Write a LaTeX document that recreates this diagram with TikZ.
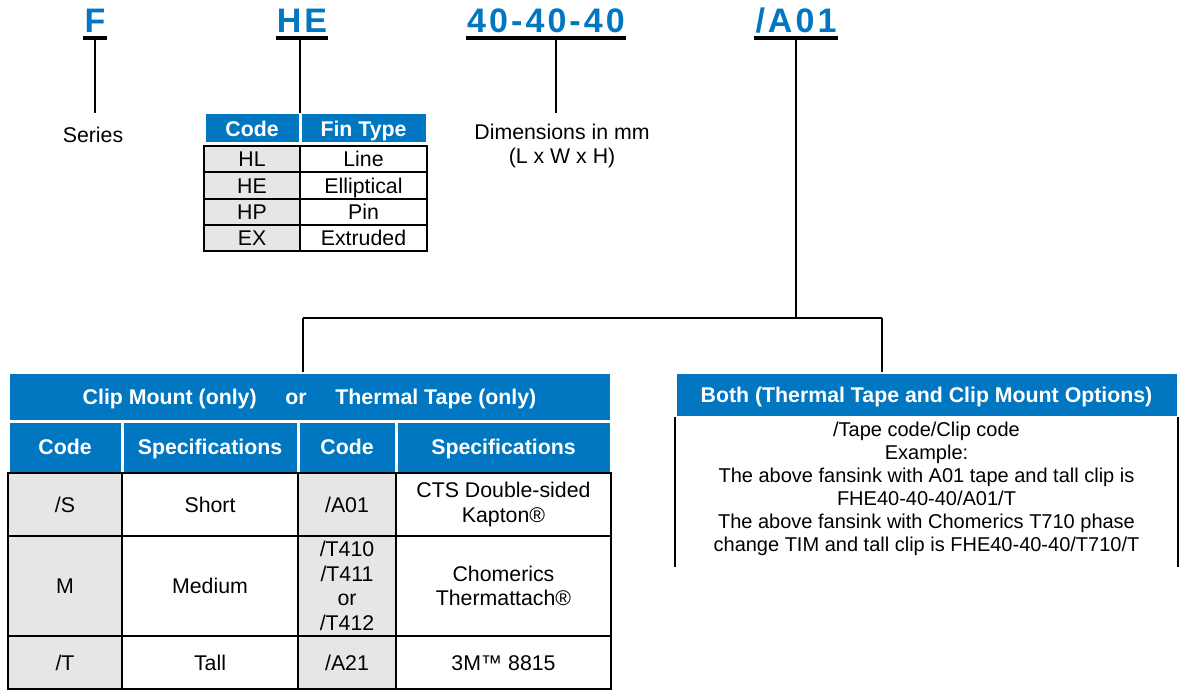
\documentclass[tikz,border=0pt]{standalone}
\usepackage{fontspec}
\setmainfont{Liberation Sans}
\usepackage{tikz}

\definecolor{tblblue}{RGB}{0,119,192}
\definecolor{codegray}{RGB}{230,230,230}
\newcommand{\bodyfont}{\fontsize{21.3}{24.5}\selectfont}

\tikzset{
  partcode/.style={text=tblblue, font=\fontsize{34}{34}\selectfont\bfseries\addfontfeature{LetterSpace=9},
    inner xsep=1pt, inner ysep=0pt, text depth=5pt, anchor=south},
  uline/.style={line width=4pt},
  stem/.style={line width=2pt},
  capbox/.style={text height=15.3pt, text depth=0pt},
  hdrcell/.style={fill=tblblue, draw=white, line width=3pt, text=white, font=\bfseries\bodyfont,
    anchor=north west, inner sep=0pt, outer sep=0pt, align=center, capbox},
  cellbase/.style={draw=black, line width=2pt, font=\bodyfont,
    anchor=north west, inner sep=0pt, outer sep=0pt, align=center},
  codemulti/.style={cellbase, fill=codegray},
  specmulti/.style={cellbase, fill=white},
  codecell/.style={codemulti, capbox},
  speccell/.style={specmulti, capbox},
  note/.style={font=\bodyfont, align=center, inner sep=0pt},
}

\begin{document}
\begin{tikzpicture}[x=1pt,y=-1pt]
\useasboundingbox (0,0) rectangle (1186,690);

% part number
\node[partcode] (F) at (95,38) {F};
\node[partcode] (HE) at (302,38) {HE};
\node[partcode] (dims) at (546,38) {40-40-40};
\node[partcode] (tape) at (796,38) {/A01};
\draw[uline] (F.south west) -- (F.south east);
\draw[uline] (HE.south west) -- (HE.south east);
\draw[uline] (dims.south west) -- (dims.south east);
\draw[uline] (tape.south west) -- (tape.south east);

% series and dimensions
\node[note] (series) at (93,135) {Series};
\node[note, font=\fontsize{21.3}{24}\selectfont] (dimtxt) at (562,146) {Dimensions in mm\\(L x W x H)};

% fin type table
\node[hdrcell, minimum width=96pt, minimum height=31pt] (hcode) at (204,113) {Code};
\node[hdrcell, minimum width=127pt, minimum height=31pt] (hfin) at (300,113) {Fin Type};
\node[codecell, minimum width=96pt, minimum height=26.25pt] (fc1) at (204,146) {HL};
\node[speccell, minimum width=127pt, minimum height=26.25pt] (ft1) at (300,146) {Line};
\node[codecell, minimum width=96pt, minimum height=26.25pt] (fc2) at (204,172.25) {HE};
\node[speccell, minimum width=127pt, minimum height=26.25pt] (ft2) at (300,172.25) {Elliptical};
\node[codecell, minimum width=96pt, minimum height=26.25pt] (fc3) at (204,198.5) {HP};
\node[speccell, minimum width=127pt, minimum height=26.25pt] (ft3) at (300,198.5) {Pin};
\node[codecell, minimum width=96pt, minimum height=26.25pt] (fc4) at (204,224.75) {EX};
\node[speccell, minimum width=127pt, minimum height=26.25pt] (ft4) at (300,224.75) {Extruded};

% clip mount or thermal tape table
\node[hdrcell, minimum width=603pt, minimum height=49pt] (clipttl) at (8,372)
  {Clip Mount (only)\hspace{1.35em}or\hspace{1.35em}Thermal Tape (only)};
\node[hdrcell, minimum width=114pt, minimum height=52pt] (ch1) at (8,421) {Code};
\node[hdrcell, minimum width=176pt, minimum height=52pt] (ch2) at (122,421) {Specifications};
\node[hdrcell, minimum width=98pt, minimum height=52pt] (ch3) at (298,421) {Code};
\node[hdrcell, minimum width=215pt, minimum height=52pt] (ch4) at (396,421) {Specifications};
\node[codecell, minimum width=114pt, minimum height=63pt] (s1) at (8,473) {/S};
\node[speccell, minimum width=176pt, minimum height=63pt] (sp1) at (122,473) {Short};
\node[codecell, minimum width=98pt, minimum height=63pt] (t1) at (298,473) {/A01};
\node[specmulti, minimum width=215pt, minimum height=63pt] (tp1) at (396,473) {CTS Double-sided\\Kapton®};
\node[codecell, minimum width=114pt, minimum height=100pt] (s2) at (8,536) {M};
\node[speccell, minimum width=176pt, minimum height=100pt] (sp2) at (122,536) {Medium};
\node[codemulti, minimum width=98pt, minimum height=100pt] (t2) at (298,536) {/T410\\/T411\\or\\/T412};
\node[specmulti, minimum width=215pt, minimum height=100pt] (tp2) at (396,536) {Chomerics\\Thermattach®};
\node[codecell, minimum width=114pt, minimum height=53pt] (s3) at (8,636) {/T};
\node[speccell, minimum width=176pt, minimum height=53pt] (sp3) at (122,636) {Tall};
\node[codecell, minimum width=98pt, minimum height=53pt] (t3) at (298,636) {/A21};
\node[speccell, minimum width=215pt, minimum height=53pt] (tp3) at (396,636) {3M™ 8815};

% both options box
\node[hdrcell, minimum width=503pt, minimum height=45pt] (bothttl) at (675,372)
  {Both (Thermal Tape and Clip Mount Options)};
\node[note, font=\fontsize{20}{23}\selectfont] (bothtxt) at (926.5,489)
  {/Tape code/Clip code\\Example:\\The above fansink with A01 tape and tall clip is\\FHE40-40-40/A01/T\\
   The above fansink with Chomerics T710 phase\\change TIM and tall clip is FHE40-40-40/T710/T};
\coordinate (bothend) at (926,567);
\draw[stem] (bothttl.south west) -- (bothttl.south west |- bothend);
\draw[stem] (bothttl.south east) -- (bothttl.south east |- bothend);

% connectors
\coordinate (Fend) at (95,113);
\coordinate (dimend) at (556,113);
\coordinate (busL) at (303,318);
\coordinate (busR) at (882,318);
\draw[stem] (F.south) -- (Fend);
\draw[stem] (hcode.north east |- HE.south) -- (hcode.north east);
\draw[stem] (dimend |- dims.south) -- (dimend);
\draw[stem] (tape.south) -- (tape.south |- busL);
\draw[stem] (busL) -- (busR);
\draw[stem] (busL) -- (busL |- clipttl.north);
\draw[stem] (busR) -- (busR |- bothttl.north);
\end{tikzpicture}
\end{document}
